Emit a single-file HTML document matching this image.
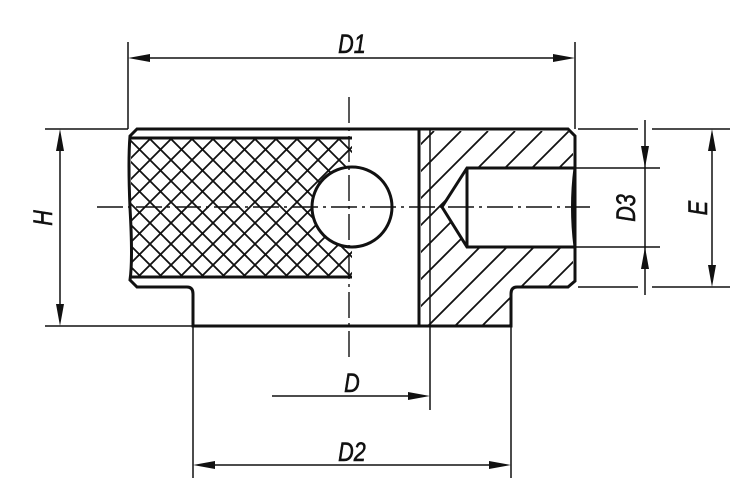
<!DOCTYPE html>
<html><head><style>html,body{margin:0;padding:0;background:#fff}svg{display:block}</style></head>
<body>
<svg width="750" height="504" viewBox="0 0 750 504" xmlns="http://www.w3.org/2000/svg">
<defs>
<clipPath id="ck"><rect x="131" y="139" width="221" height="138"/></clipPath>
<clipPath id="cd"><path d="M421,131 L568,131 L573,137 L573,168 L467,168 L442,207 L467,247 L573,247 L573,280 L568,286 L516,286 L510,293 L510,325 L421,325 Z"/></clipPath>
</defs>
<g fill="none" stroke="#111">
<g clip-path="url(#ck)" stroke-width="1.8" id="kn"></g>
<g clip-path="url(#cd)" stroke-width="1.8" id="dg"></g>
<circle cx="352" cy="207" r="40" fill="#fff" stroke="#111" stroke-width="3"/>
<path d="M137,129 L568,129 L575,136 L575,281 L568,287 L517,287 Q511,287 511,294 L511,326 L193,326 L193,294 Q193,287 187,287 L137,287 L130,280 Q133,260 130,208 Q128,160 130,136 Z" stroke-width="3"/>
<path d="M130,138 L352,138 M130,277 L352,277" stroke-width="3"/>
<path d="M352,287 L419,287" stroke="#fff" stroke-width="4"/>
<path d="M419,129 L419,326" stroke-width="3"/>
<path d="M430,129 L430,410" stroke-width="1.5"/>
<path d="M575,168 L467,168 L442,207 L467,247 L575,247 M467,168 L467,247" stroke-width="3"/>
<path d="M575,168 Q570,207 575,247" stroke-width="3"/>
<path d="M97,207 L590,207" stroke-width="1.4" stroke-dasharray="26,5,3,5"/>
<path d="M349,97 L349,357" stroke-width="1.4" stroke-dasharray="26,5,3,5"/>
<g stroke-width="1.5">
<path d="M128,42 L128,129 M575,42 L575,129"/>
<path d="M150,58 L553,58"/>
<path d="M45,129 L128,129 M45,326 L193,326"/>
<path d="M60,151 L60,304"/>
<path d="M578,129 L638,129 M652,129 L730,129 M578,287 L638,287 M652,287 L730,287 M575,168 L660,168 M575,247 L660,247"/>
<path d="M645,120 L645,295"/>
<path d="M712,151 L712,265"/>
<path d="M193,326 L193,478 M511,326 L511,478"/>
<path d="M272,396 L410,396"/>
<path d="M215,465 L489,465"/>
</g>
<g fill="#111" stroke="none">
<path d="M128,58 L150,54 L150,62 Z M575,58 L553,54 L553,62 Z"/>
<path d="M60,129 L56,151 L64,151 Z M60,326 L56,304 L64,304 Z"/>
<path d="M645,168 L641,146 L649,146 Z M645,247 L641,269 L649,269 Z"/>
<path d="M712,129 L708,151 L716,151 Z M712,287 L708,265 L716,265 Z"/>
<path d="M430,396 L408,392 L408,400 Z"/>
<path d="M193,465 L215,461 L215,469 Z M511,465 L489,461 L489,469 Z"/>
</g>
</g>
<g font-family="Liberation Sans, sans-serif" font-style="italic" font-size="27" fill="#111" stroke="#111" stroke-width="0.6">
<text x="352" y="53" text-anchor="middle" transform="translate(352,0) scale(0.8,1) translate(-352,0)">D1</text>
<text x="352" y="392" text-anchor="middle" transform="translate(352,0) scale(0.8,1) translate(-352,0)">D</text>
<text x="352" y="461" text-anchor="middle" transform="translate(352,0) scale(0.8,1) translate(-352,0)">D2</text>
<text transform="translate(52,218) rotate(-90) scale(0.8,1)" text-anchor="middle">H</text>
<text transform="translate(635,208) rotate(-90) scale(0.8,1)" text-anchor="middle">D3</text>
<text transform="translate(707,208) rotate(-90) scale(0.8,1)" text-anchor="middle">E</text>
</g>
</svg>
<script>
var ns="http://www.w3.org/2000/svg";
function ln(g,x1,y1,x2,y2){var l=document.createElementNS(ns,"line");l.setAttribute("x1",x1);l.setAttribute("y1",y1);l.setAttribute("x2",x2);l.setAttribute("y2",y2);g.appendChild(l);}
var k=document.getElementById("kn");
for(var x=-60;x<560;x+=21){ln(k,x,139,x-160,299);ln(k,x,139,x+160,299);}
var d=document.getElementById("dg");
for(var x=380;x<800;x+=27){ln(d,x,131,x-200,331);}
</script>
</body></html>
